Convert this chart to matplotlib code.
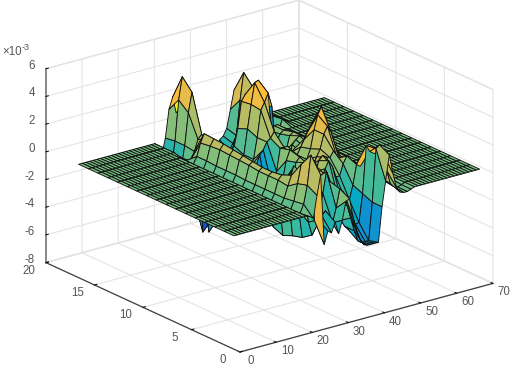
import matplotlib
matplotlib.use("Agg")
import matplotlib.pyplot as plt
import numpy as np
from matplotlib.colors import LinearSegmentedColormap, Normalize
from mpl_toolkits.mplot3d import proj3d

plt.rcParams["font.family"] = ["Liberation Sans", "DejaVu Sans"]

# surface heights in units of 1e-3, x = 21..54, one list per y
Z_Y01 = [0, -.1, -.3, 1.3, 2.7, -2.4, -1.5, -1.7, -1, -1.9, -1, .3, .4, -1, -2, -2.8, -3.2, -3.3, -3.3, -3.3, -3.3, -.8, 1, 2.8, 1.4, .3, -.1, -.2, -.2, -.1, 0, 0, 0, 0]
Z_Y02 = [0, -.2, .4, 1.7, 3.8, -1, -1, -.8, -.5, -1, -1.5, -.5, .8, .5, -.5, -1.5, -2.5, -3.3, -3.5, -3.5, -3.5, -.8, 3, 3.2, 2.5, 1.2, .2, -.1, -.2, -.1, 0, 0, 0, 0]
Z_Y03 = [0, -.3, .3, 1.5, 2.8, .5, -1.5, -2.5, -2, -1, .3, 1.8, 1, 0, -1, -2, -2.5, -2.8, -2.8, -2.6, -2.5, -.5, 2.9, 2.4, 2.2, 1, .3, 0, -.1, 0, 0, 0, 0, 0]
Z_Y04 = [0, -.3, .2, 1, 1.7, .8, -1, -3, -2.5, -.5, .8, 1, 1.5, .5, -.5, -1, -.5, -1, -1.3, -1.2, -1.2, -.2, 1.2, 1, .8, .5, .3, .1, 0, 0, 0, 0, 0, 0]
Z_Y05 = [0, -.3, .2, 1.1, 1.4, .8, -.8, -3.2, -2, 0, 1, .5, 1.8, 1.8, .5, .3, 1, 1.5, 1, .2, .2, 1, 1.5, .8, .5, .3, .3, .2, .1, 0, 0, 0, 0, 0]
Z_Y06 = [0, -.3, .2, 1.1, 1.3, .8, -1, -3.5, -1.5, .5, 1.3, .8, .5, -.5, -1, -.5, .5, 1.2, 1.5, 1.3, 1.2, 1.6, 1, .5, .3, .3, .3, .2, .1, 0, 0, 0, 0, 0]
Z_Y07 = [0, -.3, .2, 1.1, 1.3, .8, -1, -3.2, -2, -1, -.5, .2, .5, -.5, -.5, .3, .8, .5, .3, 1, 1.5, 2.5, 3, 2.5, 1.5, .3, .5, .5, .2, 0, 0, 0, 0, 0]
Z_Y08 = [0, -.3, .2, 1.2, 1.4, .8, -.8, -2, -2.5, -3, -3, -2, -1, -.5, -1, -.8, .5, .8, -.3, .5, 1.2, 2.5, 3.5, 4, 3, 1, .7, .5, .2, .1, 0, 0, 0, 0]
Z_Y09 = [0, -.3, .25, 1.25, 1.5, .8, -.5, -2, -3.5, -4, -4, -3.8, -3, -2.5, -2, -1, .3, 1, .3, .5, 1, 1.5, 2, 2.5, 1.8, .5, .5, .5, .2, .1, 0, 0, 0, 0]
Z_Y10 = [0, -.3, .25, 1.3, 1.6, .9, -.5, -2, -4, -4.5, -4.5, -4, -3.8, -3.5, -3, -2, -.8, .8, .8, .8, .3, .5, .3, 0, .3, .5, .5, .5, .3, .1, 0, 0, 0, 0]
Z_Y11 = [0, -.3, .25, 1.35, 1.7, 1, -.5, -2, -4, -4.5, -4, -3, -1.5, -.5, .2, .5, 1, 1.2, 1.6, -3.5, -4.2, -4, -1, .3, .6, .8, .7, .5, .3, .1, 0, 0, 0, 0]
Z_Y12 = [0, -.3, .3, 1.3, 1.75, 1.1, -.3, -2.5, -4, -4, -3, -2.5, -2, -1.5, -1, -.5, 1, 2.9, 3.4, 4, 3, -2, -4, -3, -.5, .5, .7, .5, .3, .1, 0, 0, 0, 0]
Z_Y13 = [0, -.2, .3, 1.2, 1.8, 1.2, 0, -3, -4.5, -4, -3, -2.5, -2, -1.5, -1, -.5, 1.3, 3, 4.5, 4.6, 2.5, .5, -2.5, -2, -.3, .3, .5, .5, .2, .1, 0, 0, 0, 0]
Z_Y14 = [0, -.2, -.3, -.3, .2, 1, 1.3, -3, -5.9, -5, -3.5, -2.5, -1.5, -1, -.5, -.2, 1, 2.9, 3.3, 3, 2.5, 2.8, 1.5, 0, -1, .2, .5, .5, .2, .1, 0, 0, 0, 0]
Z_Y15 = [0, 0, -.3, -1.3, .3, 2.6, 4, 2.2, -1.5, -6.3, -5.5, -4, -3, -2.5, -2, -2, -2, -2, -1.5, -1, -.5, .3, 1.5, 3.1, 1, -1.5, -3, -3.5, -2, -.5, -.5, .3, .1, 0]
Z_Y16 = [0, 0, -.3, -1.5, .3, 3.2, 4.8, 3, -.5, -4, -5, -4, -3, -2, -2, -2.5, -2.5, -2.5, -2, -1.5, -1, -.5, 2, 3.9, 2, -.5, -3, -3.5, -2.5, -1, -.5, .2, .1, 0]
Z_Y17 = [0, 0, -.2, -1, .2, 2.2, 3, 1.8, -.5, -3, -3.5, -3, -2, -1.5, -1.5, -2, -2, -2, -1.5, -1, -.8, -.3, 1, 2.3, 1.5, .2, -1, -1.5, -1, -.5, -.3, .2, .1, 0]

ROWS = [Z_Y01, Z_Y02, Z_Y03, Z_Y04, Z_Y05, Z_Y06, Z_Y07, Z_Y08, Z_Y09,
        Z_Y10, Z_Y11, Z_Y12, Z_Y13, Z_Y14, Z_Y15, Z_Y16, Z_Y17]
X_VALUES = list(range(1, 70))
Y_VALUES = list(range(1, 18))
X_FLAT_LEFT = 20   # x = 1..20 lies flat at zero
X_FLAT_RIGHT = 15  # x = 55..69 lies flat at zero

X_TICKS = [0, 10, 20, 30, 40, 50, 60, 70]
Y_TICKS = [0, 5, 10, 15, 20]
Z_TICKS = [-8, -6, -4, -2, 0, 2, 4, 6]

PARULA = ["#352A87", "#0363E1", "#1485D4", "#06A7C6", "#38B99E",
          "#92BF73", "#D9BA56", "#FEBF35", "#F9FB0E"]

W, H = 512, 367
fig = plt.figure(figsize=(W / 100, H / 100), dpi=100)
ax = fig.add_axes([0.05, 0.0, 0.9, 0.9 * W / H], projection="3d")
ax.set_proj_type("ortho")
ax.view_init(elev=20.7, azim=-127.5)
ax.set_box_aspect((1, 1, 0.65), zoom=1.0)
ax.set_xlim(0, 70)
ax.set_ylim(0, 20)
ax.set_zlim(-8, 6)

z = np.hstack([np.zeros((17, X_FLAT_LEFT)), np.array(ROWS), np.zeros((17, X_FLAT_RIGHT))])
xx, yy = np.meshgrid(X_VALUES, Y_VALUES)
cmap = LinearSegmentedColormap.from_list("parula", PARULA)
norm = Normalize(-7, 5)
ax.plot_surface(xx, yy, z, rstride=1, cstride=1, facecolors=cmap(norm(z)),
                shade=False, edgecolor="#101010", linewidth=0.65, antialiased=True)

GRID = "#e4e4e4"
TEXT = "#555555"
for axis in (ax.xaxis, ax.yaxis, ax.zaxis):
    axis.set_pane_color((1, 1, 1, 1))
    axis.pane.set_edgecolor(GRID)
    axis._axinfo["grid"]["color"] = GRID
    axis._axinfo["grid"]["linewidth"] = 0.8
    axis._axinfo["tick"]["inward_factor"] = 0.0
    axis._axinfo["tick"]["outward_factor"] = 0.12
    axis._axinfo["tick"]["linewidth"] = {True: 0.7, False: 0.7}
    axis._axinfo["tick"]["color"] = "#404040"
    axis.line.set_color("#404040")
    axis.line.set_linewidth(0.9)
ax.zaxis.line.set_color("#808080")
ax.zaxis.line.set_linewidth(1.3)
ax.set_xticks(X_TICKS)
ax.set_yticks(Y_TICKS)
ax.set_zticks(Z_TICKS)
ax.set_xticklabels([])
ax.set_yticklabels([])
ax.set_zticklabels([])
ax.grid(True)


def to_px(x, y, zv):
    px, py, _ = proj3d.proj_transform(x, y, zv, ax.get_proj())
    return ax.transData.transform((px, py))


# fit the axes box so the cube corners land on the reference pixels
fig.canvas.draw()
span = abs(to_px(70, 0, -8)[0] - to_px(0, 20, -8)[0])
p = ax.get_position()
size = p.width * W * 447 / span
ax.set_position([p.x0, p.y0, size / W, size / H])
fig.canvas.draw()
o = to_px(0, 0, -8)
p = ax.get_position()
ax.set_position([p.x0 + (240 - o[0]) / W, p.y0 + (H - 352 - o[1]) / H, p.width, p.height])
fig.canvas.draw()


def tick_label(value, point, dx, dy):
    # offsets in pixels from the tick's foot on the cube
    px, py = to_px(*point)
    fig.text((px + dx) / W, (py + dy) / H, str(value), fontsize=8.3, color=TEXT,
             ha="center", va="center")


for v in X_TICKS:
    tick_label(v, (v, 0, -8), 11, -9)
for v in Y_TICKS:
    tick_label(v, (0, v, -8), -17, -8)
for v in Z_TICKS:
    px, py = to_px(0, 20, v)
    fig.text((px - 11) / W, (py + 3) / H, str(v), fontsize=8.3, color=TEXT, ha="right", va="center")

fig.text(2 / W, 1 - 55 / H, "\u00d710", fontsize=8.3, color=TEXT, va="baseline")
fig.text(22 / W, 1 - 50 / H, "-3", fontsize=6.5, color=TEXT, va="baseline")

fig.savefig("out.png", dpi=100)
